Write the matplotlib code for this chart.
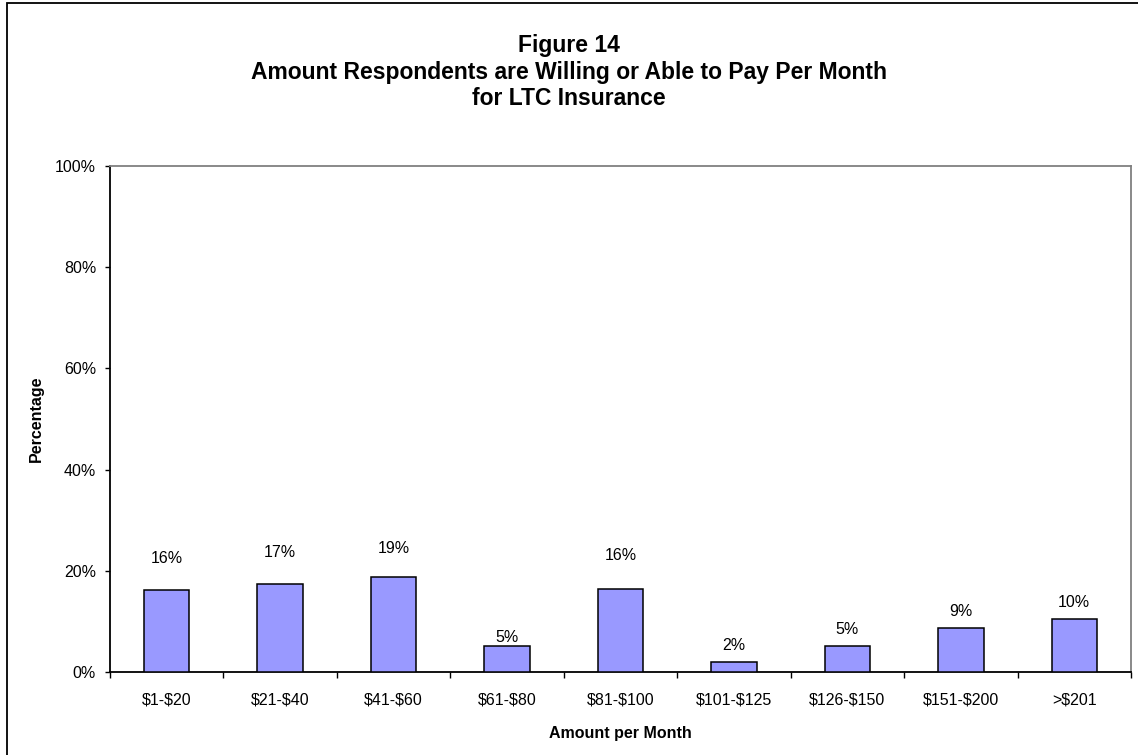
"""Figure 14: amount respondents are willing or able to pay per month."""
import matplotlib.pyplot as plt
from matplotlib.patches import Rectangle
from matplotlib.ticker import FuncFormatter, FixedLocator
import numpy as np

plt.rcParams['font.family'] = ['Liberation Sans', 'DejaVu Sans']

# Data
categories = ['$1-$20', '$21-$40', '$41-$60', '$61-$80', '$81-$100',
              '$101-$125', '$126-$150', '$151-$200', '>$201']
percent = [16.2, 17.4, 18.7, 5.2, 16.4, 2.0, 5.2, 8.6, 10.4]
labels = ['16%', '17%', '19%', '5%', '16%', '2%', '5%', '9%', '10%']
# label height above bar top (pixels), Excel placed them unevenly
label_offsets = [32, 31, 29, 8, 34, 16, 16, 17, 17]

W, H = 1138, 755
fig = plt.figure(figsize=(W / 100, H / 100), dpi=100)
ax = fig.add_axes([110 / W, 1 - 672 / H, (1131 - 110) / W, (672 - 166) / H])

x = np.arange(len(categories))
ax.bar(x, percent, width=0.4, color='#9999FF', edgecolor='black',
       linewidth=1.1, zorder=3)
for xi, val, lab, off in zip(x, percent, labels, label_offsets):
    ax.annotate(lab, (xi, val), xytext=(0, off), textcoords='offset pixels',
                ha='center', va='center', fontsize=11.5)

ax.set_xlim(-0.5, len(categories) - 0.5)
ax.set_ylim(0, 100)
ax.set_yticks(np.arange(0, 101, 20))
ax.yaxis.set_major_formatter(FuncFormatter(lambda v, p: '%d%%' % v))
ax.set_xticks(x)
ax.set_xticklabels(categories, fontsize=11.5, parse_math=False)
ax.tick_params(axis='x', which='major', length=0, pad=15)
ax.xaxis.set_minor_locator(FixedLocator(np.arange(-0.5, len(categories), 1)))
ax.tick_params(axis='x', which='minor', length=4, width=1, direction='out')
ax.tick_params(axis='y', length=3.5, width=1, direction='out',
               labelsize=11.5, pad=6.5)

for side in ('top', 'right'):
    ax.spines[side].set_color('#808080')
    ax.spines[side].set_linewidth(1.3)
for side in ('left', 'bottom'):
    ax.spines[side].set_color('black')
    ax.spines[side].set_linewidth(1.3)

ax.set_xlabel('Amount per Month', fontsize=11.5, fontweight='bold',
              labelpad=13)
ax.set_ylabel('Percentage', fontsize=11.5, fontweight='bold', labelpad=8)

fig.text(0.5, 1 - 34 / H,
         'Figure 14\nAmount Respondents are Willing or Able to Pay Per Month'
         '\nfor LTC Insurance',
         ha='center', va='top', fontsize=16.5, fontweight='bold',
         linespacing=1.2, transform=fig.transFigure)

# outer chart frame (right and bottom edges fall outside the crop)
fig.add_artist(Rectangle((7 / W, -0.05), 1.1, 1.05 - 3 / H,
                         transform=fig.transFigure, fill=False,
                         edgecolor='black', linewidth=1.3))

fig.savefig('out.png', dpi=100)
